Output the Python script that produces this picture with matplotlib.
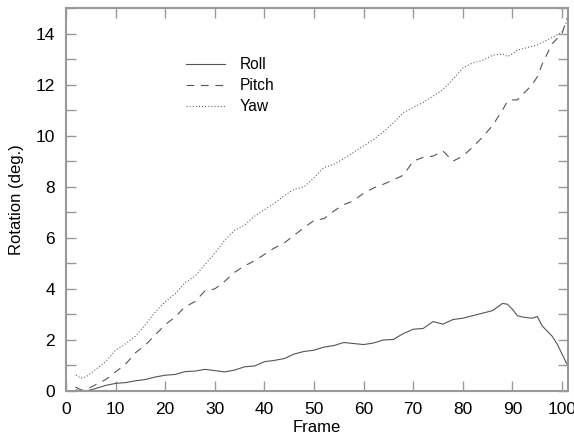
import matplotlib
matplotlib.use('Agg')
import matplotlib.pyplot as plt
from matplotlib.ticker import MultipleLocator

plt.rcParams['font.family'] = ['Liberation Sans', 'DejaVu Sans']

# Data
frames = [2, 3, 4, 5, 6, 8, 10, 12, 14, 16, 18, 20, 22, 24, 26, 28, 30, 32, 34, 36,
          38, 40, 42, 44, 46, 48, 50, 52, 54, 56, 58, 60, 62, 64, 66, 68, 70, 72, 74, 76,
          78, 80, 82, 84, 86, 88, 89, 90, 91, 92, 94, 95, 96, 98, 99, 100, 101]
roll = [0.15, 0.05, 0.0, 0.05, 0.1, 0.22, 0.3, 0.33, 0.4, 0.45, 0.55, 0.62, 0.65, 0.76, 0.78, 0.85, 0.8, 0.75, 0.82, 0.95,
        0.98, 1.15, 1.2, 1.27, 1.45, 1.55, 1.6, 1.72, 1.78, 1.9, 1.86, 1.82, 1.88, 2.0, 2.02, 2.25, 2.42, 2.45, 2.72, 2.62,
        2.8, 2.85, 2.95, 3.05, 3.15, 3.43, 3.4, 3.2, 2.95, 2.9, 2.85, 2.92, 2.55, 2.15, 1.85, 1.45, 1.05]
pitch = [0.05, 0.0, 0.05, 0.15, 0.25, 0.45, 0.75, 1.05, 1.5, 1.8, 2.2, 2.6, 2.9, 3.3, 3.5, 3.92, 4.0, 4.3, 4.65, 4.9,
         5.1, 5.35, 5.6, 5.8, 6.1, 6.4, 6.68, 6.75, 7.05, 7.3, 7.45, 7.75, 7.95, 8.1, 8.27, 8.45, 9.0, 9.15, 9.2, 9.4,
         9.0, 9.2, 9.55, 9.95, 10.4, 11.0, 11.35, 11.4, 11.4, 11.6, 12.0, 12.3, 12.8, 13.6, 13.8, 14.0, 14.6]
yaw = [0.63, 0.5, 0.55, 0.7, 0.85, 1.15, 1.6, 1.85, 2.15, 2.6, 3.1, 3.5, 3.8, 4.25, 4.5, 4.95, 5.4, 5.9, 6.3, 6.5,
       6.85, 7.1, 7.35, 7.65, 7.9, 8.0, 8.35, 8.75, 8.88, 9.1, 9.35, 9.6, 9.85, 10.15, 10.5, 10.9, 11.1, 11.3, 11.55, 11.8,
       12.2, 12.65, 12.85, 12.95, 13.15, 13.2, 13.1, 13.2, 13.35, 13.4, 13.5, 13.55, 13.65, 13.85, 13.95, 14.05, 14.5]

LINE = '#555555'
FRAME = '#999999'

fig = plt.figure(figsize=(5.74, 4.34), dpi=100)
ax = fig.add_axes([0.115, 0.099, 0.8745, 0.8826])

ax.plot(frames, roll, color=LINE, lw=0.8, ls='-', label='Roll')
ax.plot(frames, pitch, color=LINE, lw=0.8, ls=(0, (7, 6)), label='Pitch')
ax.plot(frames, yaw, color=LINE, lw=0.8, ls=(0, (0.9, 1.9)), label='Yaw')

ax.set_xlim(0, 101.2)
ax.set_ylim(0, 15)
ax.xaxis.set_major_locator(MultipleLocator(10))
ax.yaxis.set_major_locator(MultipleLocator(2))
ax.yaxis.set_minor_locator(MultipleLocator(1))
ax.tick_params(which='both', direction='in', top=True, right=True,
               length=7, width=1, color=FRAME, labelsize=12.5, pad=8)
for s in ax.spines.values():
    s.set_color(FRAME)
    s.set_linewidth(1.5)

ax.set_xlabel('Frame', fontsize=12, labelpad=2)
ax.set_ylabel('Rotation (deg.)', fontsize=12, labelpad=8)

ax.legend(loc='upper left', bbox_to_anchor=(0.24, 0.872), frameon=False,
          fontsize=11.2, handlelength=2.5, handletextpad=0.9, labelspacing=0.4,
          borderpad=0, borderaxespad=0)

plt.savefig('out.png', dpi=100, facecolor='white')
plt.close()
